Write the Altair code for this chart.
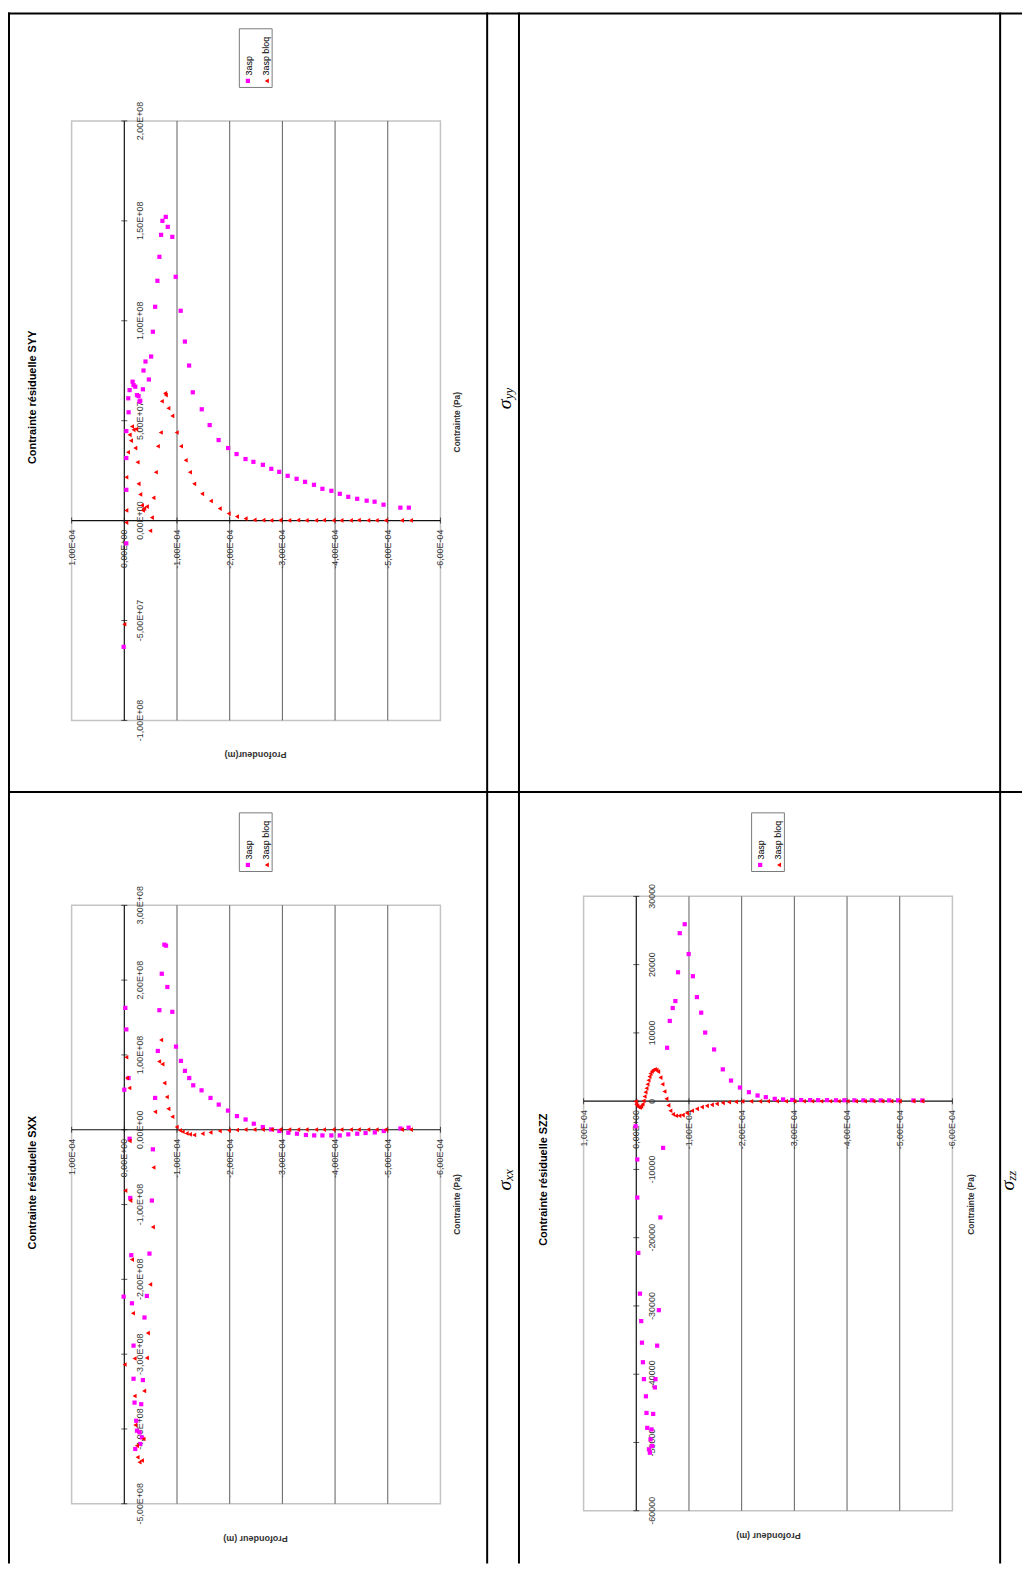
import altair as alt
import pandas as pd

# ------------------------------------------------------------------
# Tick values / labels
# ------------------------------------------------------------------
DEPTH_TICKS = [1e-4, 0.0, -1e-4, -2e-4, -3e-4, -4e-4, -5e-4, -6e-4]
DEPTH_LABELS = ["1,00E-04", "0,00E+00", "-1,00E-04", "-2,00E-04", "-3,00E-04",
                "-4,00E-04", "-5,00E-04", "-6,00E-04"]
DEPTH_GRID = [-1e-4, -2e-4, -3e-4, -4e-4, -5e-4]

SYY_TICKS = [2e8, 1.5e8, 1e8, 5e7, 0.0, -5e7, -1e8]
SYY_LABELS = ["2,00E+08", "1,50E+08", "1,00E+08", "5,00E+07", "0,00E+00", "-5,00E+07", "-1,00E+08"]
SXX_TICKS = [3e8, 2e8, 1e8, 0.0, -1e8, -2e8, -3e8, -4e8, -5e8]
SXX_LABELS = ["3,00E+08", "2,00E+08", "1,00E+08", "0,00E+00", "-1,00E+08", "-2,00E+08",
              "-3,00E+08", "-4,00E+08", "-5,00E+08"]
SZZ_TICKS = [30000, 20000, 10000, 0, -10000, -20000, -30000, -40000, -50000, -60000]
SZZ_LABELS = ["30000", "20000", "10000", "0", "-10000", "-20000", "-30000", "-40000", "-50000", "-60000"]

# ------------------------------------------------------------------
# Series: depth (m) and stress (Pa)
# ------------------------------------------------------------------
syy_3asp_depth = [1.3e-6, -3.8e-6, -3.8e-6, -3.8e-6, -3.8e-6, -7.5e-6, -8.1e-6, -1.0e-5, -1.57e-5, -1.75e-5,
                  -2.08e-5, -2.4e-5, -2.7e-5, -2.89e-5, -3.02e-5, -3.53e-5, -3.64e-5, -4.02e-5, -4.66e-5, -5.09e-5,
                  -5.42e-5, -5.85e-5, -6.28e-5, -6.66e-5, -6.98e-5, -7.23e-5, -7.87e-5, -8.25e-5, -9.11e-5, -9.75e-5,
                  -1.07e-4, -1.15e-4, -1.23e-4, -1.30e-4, -1.47e-4, -1.62e-4, -1.79e-4, -1.97e-4, -2.13e-4, -2.30e-4,
                  -2.45e-4, -2.63e-4, -2.79e-4, -2.94e-4, -3.10e-4, -3.27e-4, -3.43e-4, -3.60e-4, -3.76e-4, -3.93e-4,
                  -4.09e-4, -4.25e-4, -4.42e-4, -4.60e-4, -4.75e-4, -4.92e-4, -5.24e-4, -5.40e-4]
syy_3asp_stress = [-6.32e7, -1.14e7, 1.54e7, 3.13e7, 4.48e7, 6.12e7, 5.42e7, 6.53e7, 6.95e7, 6.78e7,
                   6.70e7, 6.28e7, 6.23e7, 5.96e7, 6.0e7, 6.57e7, 7.51e7, 7.96e7, 7.06e7, 8.21e7,
                   9.45e7, 1.07e8, 1.20e8, 1.32e8, 1.43e8, 1.50e8, 1.52e8, 1.47e8, 1.42e8, 1.22e8,
                   1.05e8, 8.96e7, 7.76e7, 6.42e7, 5.57e7, 4.78e7, 4.03e7, 3.63e7, 3.33e7, 3.08e7,
                   2.94e7, 2.79e7, 2.59e7, 2.44e7, 2.24e7, 2.09e7, 1.94e7, 1.79e7, 1.59e7, 1.49e7,
                   1.34e7, 1.19e7, 1.09e7, 9.95e6, 9.45e6, 7.96e6, 6.47e6, 6.47e6]

syy_bloq_depth = [0.0, -3.8e-6, -3.8e-6, -3.8e-6, -7.0e-6, -1.0e-5, -1.26e-5, -1.45e-5, -1.75e-5, -2.08e-5,
                  -2.26e-5, -2.51e-5, -2.70e-5, -3.02e-5, -3.34e-5, -3.53e-5, -3.77e-5, -4.28e-5, -4.91e-5, -5.23e-5,
                  -5.53e-5, -5.98e-5, -6.36e-5, -6.92e-5, -7.11e-5, -7.74e-5, -7.87e-5, -8.36e-5, -9.11e-5, -9.94e-5,
                  -1.075e-4, -1.164e-4, -1.245e-4, -1.326e-4, -1.477e-4, -1.642e-4, -1.811e-4, -1.981e-4, -2.138e-4,
                  -2.302e-4, -2.472e-4,
                  -2.64e-4, -2.79e-4, -2.96e-4, -3.13e-4, -3.30e-4, -3.46e-4, -3.64e-4, -3.79e-4, -3.97e-4,
                  -4.12e-4, -4.30e-4, -4.45e-4, -4.63e-4, -4.79e-4, -4.96e-4, -5.27e-4, -5.44e-4]
syy_bloq_stress = [-5.19e7, -1.0e6, 5.1e6, 2.17e7, 3.42e7, 4.29e7, 4.0e7, 4.71e7, 4.54e7, 3.63e7,
                   4.58e7, 2.92e7, 1.84e7, 1.31e7, 7.6e6, 5.1e6, 6.0e6, 7.0e6, -5.1e6, 1.5e6,
                   1.14e7, 2.42e7, 3.72e7, 4.41e7, 5.97e7, 6.37e7, 6.28e7, 5.62e7, 5.24e7, 4.41e7,
                   3.72e7, 3.02e7, 2.42e7, 1.84e7, 1.34e7, 9.8e6, 6.0e6, 3.5e6, 2.0e6,
                   1.0e6, 3.5e5,
                   2e5, 1e5, 2e5, 1e5, 2e5, 1e5, 1e5, 2e5, 1e5,
                   1e5, 1e5, 2e5, 1e5, 1e5, 1e5, 1e5, 1e5]

sxx_3asp_depth = [1.3e-6, 0.0, -1.9e-6, -3.8e-6, -8.1e-6, -1.0e-5, -1.13e-5, -1.32e-5, -1.45e-5, -1.75e-5,
                  -1.75e-5, -1.94e-5, -2.08e-5, -2.26e-5, -2.40e-5, -2.89e-5, -3.02e-5, -3.21e-5, -3.34e-5, -3.53e-5,
                  -3.83e-5, -4.28e-5, -4.77e-5, -5.23e-5, -5.42e-5, -5.85e-5, -6.36e-5, -6.66e-5, -7.11e-5, -7.60e-5,
                  -7.92e-5, -8.17e-5, -9.11e-5, -9.81e-5, -1.075e-4, -1.151e-4, -1.232e-4, -1.308e-4, -1.466e-4,
                  -1.636e-4, -1.792e-4, -1.968e-4, -2.138e-4, -2.302e-4, -2.458e-4, -2.628e-4, -2.787e-4, -2.943e-4,
                  -3.113e-4, -3.277e-4, -3.447e-4, -3.604e-4, -3.760e-4, -3.930e-4, -4.089e-4, -4.251e-4, -4.421e-4,
                  -4.579e-4, -4.755e-4, -4.925e-4, -5.240e-4, -5.396e-4]
sxx_3asp_stress = [-2.231e8, 5.35e7, 1.629e8, 1.341e8, 6.91e7, -1.20e7, -9.12e7, -1.677e8, -2.320e8, -2.886e8,
                   -3.329e8, -3.648e8, -4.267e8, -3.891e8, -4.023e8, -4.046e8, -4.200e8, -3.669e8, -4.113e8, -3.347e8,
                   -2.510e8, -2.222e8, -1.656e8, -9.47e7, -2.62e7, 4.25e7, 1.053e8, 1.598e8, 2.085e8, 2.474e8,
                   2.461e8, 1.908e8, 1.576e8, 1.111e8, 9.20e7, 7.87e7, 6.91e7, 5.94e7, 5.27e7,
                   4.25e7, 3.36e7, 2.56e7, 1.82e7, 1.37e7, 8.0e6, 3.6e6, 4e5, -1.7e6,
                   -4.0e6, -5.3e6, -7.0e6, -7.6e6, -7.6e6, -7.6e6, -7.6e6, -6.2e6, -5.3e6,
                   -4.4e6, -3.6e6, -1.7e6, 1.7e6, 2.7e6]

sxx_bloq_depth = [-6e-7, -1.9e-6, -3.8e-6, -5.1e-6, -9.4e-6, -1.0e-5, -1.13e-5, -1.45e-5, -1.64e-5, -1.94e-5,
                  -1.94e-5, -2.08e-5, -2.40e-5, -2.51e-5, -2.89e-5, -3.34e-5, -3.64e-5, -3.77e-5, -4.28e-5, -4.47e-5,
                  -4.91e-5, -5.42e-5, -5.53e-5, -5.85e-5, -6.60e-5, -6.98e-5, -7.23e-5, -7.60e-5, -8.06e-5, -8.36e-5,
                  -9.11e-5, -9.94e-5, -1.057e-4, -1.108e-4, -1.183e-4, -1.245e-4, -1.326e-4, -1.485e-4, -1.636e-4,
                  -1.811e-4, -1.987e-4, -2.138e-4,
                  -2.30e-4, -2.47e-4, -2.63e-4, -2.80e-4, -2.96e-4, -3.13e-4, -3.30e-4, -3.46e-4, -3.64e-4, -3.79e-4,
                  -3.97e-4, -4.12e-4, -4.30e-4, -4.45e-4, -4.63e-4, -4.79e-4, -4.96e-4, -5.27e-4, -5.44e-4]
sxx_bloq_stress = [-3.138e8, -8.14e7, 9.69e7, 6.91e7, 5.58e7, -1.50e7, -9.47e7, -1.736e8, -2.453e8, -3.058e8,
                   -3.559e8, -3.948e8, -4.223e8, -4.378e8, -4.445e8, -4.422e8, -4.134e8, -3.492e8, -3.050e8, -2.718e8,
                   -2.068e8, -1.301e8, -5.05e7, 2.39e7, 9.12e7, 1.199e8, 8.76e7, 6.24e7, 4.38e7, 2.79e7,
                   1.73e7, 3.6e6, -9e5, -2.7e6, -4.9e6, -6.2e6, -7.0e6, -5.3e6, -3.6e6,
                   -1.7e6, -9e5, -4e5,
                   2e5, 2e5, 2e5, 2e5, 2e5, 2e5, 2e5, 2e5, 2e5, 2e5,
                   2e5, 2e5, 2e5, 2e5, 2e5, 2e5, 2e5, 2e5, 2e5]

szz_3asp_depth = [1.3e-6, -1.9e-6, -1.9e-6, -3.8e-6, -7.0e-6, -9.4e-6, -1.08e-5, -1.26e-5, -1.45e-5, -1.83e-5,
                  -1.94e-5, -2.08e-5, -2.40e-5, -2.58e-5, -2.70e-5, -2.89e-5, -3.02e-5, -3.21e-5, -3.53e-5, -3.64e-5,
                  -3.96e-5, -4.28e-5, -4.58e-5, -5.09e-5, -5.85e-5, -6.36e-5, -6.92e-5, -7.42e-5, -7.92e-5, -8.25e-5,
                  -9.19e-5, -9.94e-5, -1.075e-4, -1.151e-4, -1.232e-4, -1.308e-4, -1.477e-4, -1.642e-4, -1.798e-4,
                  -1.968e-4, -2.138e-4, -2.302e-4, -2.458e-4, -2.628e-4, -2.787e-4,
                  -2.96e-4, -3.13e-4, -3.30e-4, -3.45e-4, -3.62e-4, -3.79e-4, -3.95e-4, -4.14e-4, -4.31e-4, -4.47e-4,
                  -4.64e-4, -4.80e-4, -4.97e-4, -5.26e-4, -5.43e-4]
szz_3asp_stress = [-3684, -8547, -14123, -22233, -28203, -32221, -35381, -38249, -40725, -43243,
                   -45675, -47859, -51004, -51499, -49548, -48092, -50523, -45821, -41933, -40725,
                   -35818, -30620, -17035, -6843, 7819, 11750, 13643, 14662, 18884, 24606,
                   25917, 21549, 18302, 15244, 12958, 10046, 7571, 4659, 3014,
                   1995, 1310, 830, 582, 335, 248,
                   180, 160, 150, 140, 140, 130, 130, 120, 120, 120,
                   110, 110, 110, 100, 100]

szz_bloq_depth = [1.3e-6, 0.0, -1.9e-6, -4.3e-6, -7.0e-6, -9.4e-6, -1.19e-5, -1.38e-5, -1.57e-5, -1.75e-5,
                  -1.94e-5, -2.13e-5, -2.32e-5, -2.51e-5, -2.70e-5, -2.96e-5, -3.21e-5, -3.53e-5, -3.83e-5, -4.15e-5,
                  -4.58e-5, -4.96e-5, -5.34e-5, -5.72e-5, -6.09e-5, -6.47e-5, -6.98e-5, -7.55e-5, -8.17e-5, -8.81e-5,
                  -9.62e-5, -1.057e-4, -1.151e-4, -1.245e-4, -1.340e-4, -1.434e-4, -1.528e-4, -1.642e-4, -1.761e-4,
                  -1.893e-4, -2.013e-4,
                  -2.18e-4, -2.35e-4, -2.50e-4, -2.67e-4, -2.84e-4, -3.00e-4, -3.18e-4, -3.34e-4, -3.51e-4, -3.68e-4,
                  -3.84e-4, -4.01e-4, -4.17e-4, -4.34e-4, -4.50e-4, -4.67e-4, -4.84e-4, -5.00e-4, -5.26e-4, -5.43e-4]
szz_bloq_stress = [-44, -437, -684, -874, -917, -772, -437, 44, 684, 1310,
                   1893, 2475, 3058, 3596, 4033, 4368, 4557, 4659, 4557, 4324,
                   3451, 2475, 1412, 335, -626, -1412, -1936, -2140, -2140, -2038,
                   -1747, -1412, -1121, -874, -684, -539, -393, -248, -146,
                   -102, -44,
                   -30, -25, -20, -20, -20, -15, -15, -15, -10, -10,
                   -10, -10, -10, -10, -5, -5, -5, -5, -5, -5]

# ------------------------------------------------------------------
# Texts
# ------------------------------------------------------------------
TITLES = ["Contrainte résiduelle SYY", "Contrainte résiduelle SXX", "Contrainte résiduelle SZZ"]
X_TITLE = "Contrainte (Pa)"
Y_TITLES = ["Profondeur(m)", "Profondeur (m)", "Profondeur (m)"]
SERIES = ["3asp", "3asp bloq"]
SIGMA_SUBS = ["yy", "xx", "zz"]

# ------------------------------------------------------------------
# Layout (pixels inside the 1020 x 1560 view)
# ------------------------------------------------------------------
W, H = 1020, 1560
PLOTS = {
    "SYY": {"px": (64, 435), "py": (109, 712)},
    "SXX": {"px": (64, 435), "py": (898, 1500)},
    "SZZ": {"px": (579, 950), "py": (889, 1507)},
}
FONT = "Liberation Sans"
MAGENTA = "#ff00ff"
RED = "#ff0000"


def panel(d3, s3, db, sb, s_ticks, s_labels, px, py):
    smin, smax = min(s_ticks), max(s_ticks)
    xs = alt.Scale(domain=[-6e-4, 1e-4], range=[px[1], px[0]], nice=False, zero=False)
    ys = alt.Scale(domain=[smin, smax], range=[py[1], py[0]], nice=False, zero=False)

    def X(f):
        return alt.X(f, type="quantitative", scale=xs, axis=None)

    def Y(f):
        return alt.Y(f, type="quantitative", scale=ys, axis=None)

    frame = alt.Chart(pd.DataFrame({"d0": [-6e-4], "d1": [1e-4], "s0": [smin], "s1": [smax]})).mark_rect(
        fill="transparent", stroke="#c4c4c4", strokeWidth=1.5
    ).encode(x=X("d0"), x2="d1", y=Y("s0"), y2="s1")

    grid = alt.Chart(pd.DataFrame({"depth": DEPTH_GRID, "s0": smin, "s1": smax})).mark_rule(
        color="#5e5e5e", strokeWidth=1
    ).encode(x=X("depth"), y=Y("s0"), y2="s1")

    vaxis = alt.Chart(pd.DataFrame({"depth": [0.0], "s0": [smin], "s1": [smax]})).mark_rule(
        color="#111111", strokeWidth=1.2
    ).encode(x=X("depth"), y=Y("s0"), y2="s1")

    haxis = alt.Chart(pd.DataFrame({"d0": [-6e-4], "d1": [1e-4], "stress": [0.0]})).mark_rule(
        color="#111111", strokeWidth=1.2
    ).encode(x=X("d0"), x2="d1", y=Y("stress"))

    dticks = alt.Chart(pd.DataFrame({"depth": DEPTH_TICKS, "stress": 0.0})).mark_tick(
        orient="vertical", size=6, thickness=1, color="#111111"
    ).encode(x=X("depth"), y=Y("stress"))

    sticks = alt.Chart(pd.DataFrame({"depth": 0.0, "stress": s_ticks})).mark_tick(
        orient="horizontal", size=6, thickness=1, color="#111111"
    ).encode(x=X("depth"), y=Y("stress"))

    dlabels = alt.Chart(pd.DataFrame({"depth": DEPTH_TICKS, "stress": 0.0, "label": DEPTH_LABELS})).mark_text(
        angle=270, align="right", baseline="middle", dx=-9, fontSize=9, font=FONT, color="#383838"
    ).encode(x=X("depth"), y=Y("stress"), text="label:N")

    slabels = alt.Chart(pd.DataFrame({"depth": 0.0, "stress": s_ticks, "label": s_labels})).mark_text(
        angle=270, align="center", baseline="middle", dy=16, fontSize=9, font=FONT, color="#383838"
    ).encode(x=X("depth"), y=Y("stress"), text="label:N")

    p3 = alt.Chart(pd.DataFrame({"depth": d3, "stress": s3})).mark_point(
        shape="square", filled=True, size=18, color=MAGENTA, opacity=1
    ).encode(x=X("depth"), y=Y("stress"))

    pb = alt.Chart(pd.DataFrame({"depth": db, "stress": sb})).mark_point(
        shape="triangle-left", filled=True, size=22, color=RED, opacity=1
    ).encode(x=X("depth"), y=Y("stress"))

    return alt.layer(frame, grid, vaxis, haxis, dticks, sticks, dlabels, slabels, p3, pb)


def PX(f):
    return alt.X(f, type="quantitative", scale=None, axis=None)


def PY(f):
    return alt.Y(f, type="quantitative", scale=None, axis=None)


def text_layer(rows, **kw):
    df = pd.DataFrame(rows, columns=["px", "py", "text"])
    return alt.Chart(df).mark_text(font=FONT, **kw).encode(x=PX("px"), y=PY("py"), text="text:N")


# table borders of the page
table = alt.Chart(pd.DataFrame({
    "x": [0, 0, 1, 482, 514, 998],
    "x2": [W, W, 1, 482, 514, 998],
    "y": [1, 784, 0, 0, 0, 0],
    "y2": [1, 784, H, H, H, H],
})).mark_rule(color="black", strokeWidth=2).encode(x=PX("x"), x2="x2", y=PY("y"), y2="y2")

syy = panel(syy_3asp_depth, syy_3asp_stress, syy_bloq_depth, syy_bloq_stress, SYY_TICKS, SYY_LABELS,
            PLOTS["SYY"]["px"], PLOTS["SYY"]["py"])
sxx = panel(sxx_3asp_depth, sxx_3asp_stress, sxx_bloq_depth, sxx_bloq_stress, SXX_TICKS, SXX_LABELS,
            PLOTS["SXX"]["px"], PLOTS["SXX"]["py"])
szz = panel(szz_3asp_depth, szz_3asp_stress, szz_bloq_depth, szz_bloq_stress, SZZ_TICKS, SZZ_LABELS,
            PLOTS["SZZ"]["px"], PLOTS["SZZ"]["py"])

titles = text_layer([(25, 387, TITLES[0]), (25, 1177, TITLES[1]), (539, 1174, TITLES[2])],
                    angle=270, align="center", baseline="middle", fontSize=11, fontWeight="bold", color="black")
xtitles = text_layer([(452, 412, X_TITLE), (452, 1199, X_TITLE), (969, 1199, X_TITLE)],
                     angle=270, align="center", baseline="middle", fontSize=8.5, fontWeight="bold", color="#333333")
ytitles = text_layer([(249, 747, Y_TITLES[0]), (249, 1535, Y_TITLES[1]), (765, 1532, Y_TITLES[2])],
                     angle=180, align="center", baseline="middle", fontSize=9, fontWeight="bold", color="#333333")

# legends
LEG = [(232.7, 16.3), (232.7, 805.0), (748.0, 805.0)]
leg_box = alt.Chart(pd.DataFrame({
    "x": [l[0] for l in LEG], "x2": [l[0] + 33 for l in LEG],
    "y": [l[1] for l in LEG], "y2": [l[1] + 59 for l in LEG],
})).mark_rect(fill="white", stroke="#7a7a7a", strokeWidth=1).encode(x=PX("x"), x2="x2", y=PY("y"), y2="y2")
leg_sq = alt.Chart(pd.DataFrame({"x": [l[0] + 8.6 for l in LEG], "y": [l[1] + 52.4 for l in LEG]})).mark_point(
    shape="square", filled=True, size=18, color=MAGENTA, opacity=1).encode(x=PX("x"), y=PY("y"))
leg_tri = alt.Chart(pd.DataFrame({"x": [l[0] + 27.6 for l in LEG], "y": [l[1] + 52.4 for l in LEG]})).mark_point(
    shape="triangle-left", filled=True, size=22, color=RED, opacity=1).encode(x=PX("x"), y=PY("y"))
leg_txt = text_layer(
    [(l[0] + 9.3, l[1] + 47.0, SERIES[0]) for l in LEG] + [(l[0] + 27.0, l[1] + 47.0, SERIES[1]) for l in LEG],
    angle=270, align="left", baseline="middle", fontSize=9, color="black")

# sigma labels in the table (sigma + subscript, reading bottom-to-top)
sig = alt.Chart(pd.DataFrame({"px": [500, 500, 1006], "py": [399, 1185, 1185], "text": ["σ", "σ", "σ"]})).mark_text(
    angle=270, align="left", baseline="middle", fontSize=20, font="Liberation Serif", fontStyle="italic",
    color="black").encode(x=PX("px"), y=PY("py"), text="text:N")
sub = alt.Chart(pd.DataFrame({"px": [504, 504, 1010], "py": [389, 1175, 1175], "text": SIGMA_SUBS})).mark_text(
    angle=270, align="left", baseline="middle", fontSize=13, font="Liberation Serif", fontStyle="italic",
    color="black").encode(x=PX("px"), y=PY("py"), text="text:N")

chart = alt.layer(
    table, syy, sxx, szz, titles, xtitles, ytitles, leg_box, leg_sq, leg_tri, leg_txt, sig, sub
).resolve_scale(x="independent", y="independent").properties(
    width=W, height=H, autosize=alt.AutoSizeParams(type="none"), padding=0
).configure_view(stroke="transparent")

chart.save("out.html", embed_options={"renderer": "svg", "actions": False})
